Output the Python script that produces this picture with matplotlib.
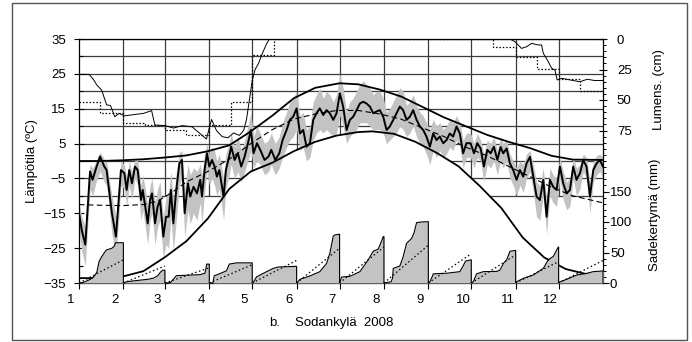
import matplotlib

matplotlib.use("Agg")

import matplotlib.pyplot as plt
import matplotlib.transforms as mtransforms
from matplotlib.patches import Rectangle

plt.rcParams["font.family"] = ["Liberation Sans", "DejaVu Sans"]
plt.rcParams["font.size"] = 9.5

# month boundaries (day of year 2008, leap year) and their labels
month_starts = [0, 31, 60, 91, 121, 152, 182, 213, 244, 274, 305, 335, 366]
month_labels = ["1", "2", "3", "4", "5", "6", "7", "8", "9", "10", "11", "12"]

# daily temperature 2008 (~every 2-3 days)
temp_days = [0, 2, 4.4, 7.7, 9.5, 12, 14.7, 17.7, 19.3, 20.7, 23, 25.8, 27.7, 29.3,
             31.7, 33.3, 35.1, 37, 39.1, 41, 43.3, 44.5, 46.3, 48, 49.6, 51, 53.1,
             54.9, 56.6, 58.9, 60.8, 62.6, 64.2, 65.9, 67.7, 70.1, 71.9, 73.8, 76.1,
             77.7, 80, 82.4, 84.7, 85.9, 87.7, 89.4, 91, 92.9, 94.7, 96.3, 98, 101,
             102.6, 104.9, 106.3, 108.7, 111, 113.3, 115.7, 118, 120.1, 121.9, 124.3,
             126.6, 129.6, 132.4, 134.3, 137.1, 139.9, 142.2, 145, 147.3, 149.6, 152,
             154.3, 156.6, 158.9, 161.3, 163.6, 165.9, 168.2, 170.6, 172.9, 175.2,
             177.6, 179.9, 182.2, 184.5, 186.9, 189.2, 191.5, 193.9, 196.2, 198.5,
             200.8, 203.2, 205.5, 207.8, 210.1, 212.5, 214.8, 217.1, 219.5, 221.8,
             224.1, 226.4, 228.8, 231.1, 233.4, 235.8, 238.1, 240.4, 242.7, 245.1,
             247.4, 249.7, 252, 254.4, 256.7, 259, 261.3, 263.7, 266, 268.3, 270.6,
             273.5, 275.9, 278.2, 280.5, 282.8, 285.2, 287.5, 289.8, 292.2, 294.5,
             296.3, 298.7, 301, 303.3, 305.6, 308, 310.3, 312.6, 315, 317.3, 319.6,
             321.9, 324.3, 326.6, 328.9, 331.2, 333.6, 335.9, 338.2, 340.6, 342.9,
             345.2, 347.5, 349.9, 352.2, 354.5, 356.9, 359.2, 361.5, 363.8, 366]
temp_mean = [-15, -20, -24, -3, -5.4, -2, 1.3, -1.6, -2.6, -7.4, -15, -21.7, -11.2, -2.6,
             -3.5, -8.3, -2.6, -6.4, -1.6, -2.6, -11.2, -8.3, -13.1, -17.9, -11.2, -9.3,
             -17.9, -13.1, -11.2, -21.7, -16, -16, -8.3, -17.9, -9.3, -0.7, 0.3, -15,
             -6.4, -10.2, -7.4, -9.3, -5.4, -10.2, -2.6, 2.2, -1.6, 0.3, -1.6, -4.5,
             -2.6, -10.2, -2.6, 1.3, 4.1, 0.3, 2.2, -1.6, 1.3, 5.1, 8.9, 2.2, 5.1, 3.2,
             0.3, 1.3, 3.2, 0.3, 2.2, 6, 8.9, 11.8, 12.7, 15.1, 7.9, 8.9, 4.1, 5.1,
             11.8, 13.7, 15.1, 13.2, 14.6, 13.7, 11.8, 13.7, 19.4, 15.6, 8.9, 11.8,
             12.7, 14.6, 16.5, 17, 16.5, 15.6, 13.7, 14.2, 14.6, 12.7, 8.9, 9.9, 11.8,
             13.7, 15.6, 14.6, 11.8, 12.7, 14.6, 11.8, 9.9, 8.9, 7, 4.1, 7.9, 6, 7,
             5.1, 6, 7.9, 7, 9.9, 7.9, 2.2, 5.1, 5.1, 2.2, 5.1, 3.6, -1.6, 3.2, 2.2,
             4.1, 0.3, 4, 2.2, 3.6, -0.7, -2.6, -5.4, -2.6, -4.5, -0.7, 1.2, -4.5,
             -10.2, -11.2, -5.4, -16, -5.4, -7.4, -8.3, -1.6, -6.4, -9.3, -8.3, -1.6,
             -5.4, -3.5, 0.3, -1.6, -10.2, -2.6, -0.7, 0.3, -1.6]
temp_low = [-20, -26, -30, -8, -10, -6, -3, -6, -7, -12, -21, -27, -17, -7,
            -8, -13, -7, -11, -5, -7, -17, -14, -19, -24, -17, -15, -24,
            -19, -17, -28, -24, -25, -16, -26, -18, -7, -5, -22,
            -14, -18, -15, -17, -12, -18, -9, -3, -7, -5, -7, -10,
            -8, -17, -8, -4, -1, -5, -3, -6, -3, 0, 3, -2, 0, -1,
            -4, -3, -1, -4, -2, 1, 4, 6, 7, 9, 3, 4, 0, 1,
            6, 8, 9, 8, 9, 8, 7, 8, 13, 10, 5, 7,
            8, 9, 11, 11, 11, 10, 9, 9, 9, 8, 5, 6, 7,
            8, 10, 9, 7, 8, 10, 7, 5, 4, 2, -1, 3, 1, 3,
            1, 2, 4, 3, 6, 4, -2, 1, 1, -2, 1, 0, -6, -1, -2,
            0, -4, 0, -2, 0, -5, -7, -10, -7, -9, -5, -3, -9,
            -16, -17, -10, -21, -10, -12, -13, -5, -11, -14, -13, -5,
            -10, -8, -3, -5, -15, -6, -4, -3, -5]
temp_high = [-12, -16, -19, -1, -2, 0, 2.5, 0.5, 0, -4, -10, -16, -7, 0,
             -1, -5, 0, -3, 0.5, 0, -7, -4, -8, -13, -7, -5, -12,
             -8, -6, -16, -10, -9, -3, -11, -4, 2.5, 3, -8,
             -1, -4, -2, -3, -1, -4, 2, 5, 2, 4, 3, 0,
             2, -5, 2, 5, 8, 4, 7, 3, 6, 10, 14, 7, 10, 8,
             5, 6, 8, 5, 7, 11, 14, 17, 18, 20, 13, 14, 9, 10,
             17, 19, 21, 18, 20, 19, 17, 19, 25, 21, 14, 17,
             18, 20, 22, 23, 22, 21, 19, 20, 20, 18, 14, 15, 17,
             19, 21, 20, 16, 17, 19, 16, 14, 13, 11, 9, 12, 10, 11,
             9, 10, 12, 11, 13, 11, 6, 8, 8, 5, 8, 6, 2, 6, 5,
             7, 3, 7, 5, 6, 2, 0, -2, 0, -1, 2, 3, -1,
             -6, -7, -2, -11, -2, -4, -5, 1, -3, -6, -5, 1,
             -2, -1, 2, 1, -6, 0, 1.5, 2, 1]

# long-term mean temperature (dashed)
norm_days = [0, 15, 30, 45, 55, 65, 75, 90, 105, 120, 135, 150, 165, 180, 195, 210,
             225, 240, 255, 270, 285, 300, 315, 330, 345, 366]
norm_temp = [-12.5, -12.7, -12.8, -12.5, -11.5, -9, -6, -3, 0.5, 5, 9, 12, 13.5,
             14.5, 14.5, 13.5, 12, 9.5, 7, 4, 1.5, -1.5, -4.5, -7.5, -10, -12]

# smooth envelope curves (thick black)
upper_days = [0, 15, 30, 45, 60, 75, 90, 105, 120, 135, 150, 165, 182, 195, 210, 225,
              240, 255, 270, 285, 300, 315, 330, 345, 366]
upper_vals = [0, 0, 0.2, 0.5, 1, 1.6, 2.8, 4.5, 8.5, 13, 18, 21, 22.3, 22, 20.5, 18.5,
              15.5, 12.5, 10, 7.5, 5.5, 3.7, 1.5, 0.4, 0.3]
lower_days = [0, 15, 30, 45, 60, 75, 90, 105, 120, 135, 150, 165, 180, 195, 205, 220,
              235, 250, 265, 280, 295, 310, 325, 340, 355, 366]
lower_vals = [-33.6, -33.6, -33.2, -31.6, -27.6, -23, -16.5, -8, -3, -0.5, 2.8, 5.5,
              7.3, 8.3, 8.5, 7.8, 5.5, 2.3, -1.5, -7.2, -13.5, -22, -27.7, -31, -32.5,
              -33.3]

# snow depth 2008 (cm, solid) and long-term half-month means (dotted)
snow_days = [0, 7, 10, 12.4, 15.8, 19.3, 22, 25, 28, 32, 38, 45, 50.7, 53, 60, 66, 72,
             79, 86, 89, 92.6, 96, 100, 104, 108, 112, 115, 117, 119, 121, 123, 125.4,
             128, 131, 133, 301, 304.5, 306.8, 309.1, 312.6, 316.1, 320.8, 323.1,
             324.3, 327.8, 330.1, 332.4, 334, 337.1, 345, 349.9, 355, 360, 366]
snow_depth = [29, 29, 33, 37.7, 41.8, 54, 54.5, 63.7, 61, 63, 62, 61, 58.7, 70.5, 71,
              73, 71, 72, 79, 82, 66, 75, 80, 81, 77, 79, 75, 66, 50, 34, 25, 20, 12, 4,
              0, 0, 2.2, 4.9, 7.7, 6.3, 3.6, 4.9, 4.9, 11.7, 18.6, 24, 25.4, 33.6, 32.2,
              34, 35, 33, 34, 34]
snow_norm_bounds = [0, 15, 31, 46, 60, 75, 91, 106, 121, 136, 289, 305, 320, 335, 350,
                    366]
snow_norm = [52, 61, 69, 70.5, 74.6, 78.7, 70.5, 51.5, 13, 0, 6.3, 14.5, 24.6, 33,
             42.4]

# cumulative monthly precipitation 2008 (mm) and long-term month totals
prec_days = [
    [0, 3, 8, 11, 12.5, 14, 15.8, 19, 23, 24.5, 25.5, 31],
    [31, 33, 40, 48, 52, 55, 57, 58.5, 60],
    [60, 61, 64, 68, 84.5, 88, 89.2, 90.5, 91],
    [91, 93.5, 94.5, 97, 103, 105, 110, 121],
    [121, 122, 124, 126.4, 131, 135.7, 139.2, 148, 152],
    [152, 153, 154.3, 161.3, 168.2, 172.9, 175.2, 177.6, 179, 182],
    [182, 183.4, 189.2, 196.2, 202, 205.5, 209, 211.3, 212.5, 213],
    [213, 218, 219, 219.5, 224.1, 226.4, 228.8, 232.3, 234, 235.8, 239.2, 244],
    [244, 245.1, 247, 247.4, 256.7, 266, 268.3, 270, 274],
    [274, 275.4, 277.7, 282.4, 292, 294, 296.4, 298.7, 301, 305],
    [305, 305.7, 310.3, 317.3, 324.3, 327.8, 331.3, 334.8, 335],
    [335, 335.9, 340.6, 347.6, 354.6, 359.2, 366],
]
prec_cum = [
    [0, 1, 6, 12, 18, 35, 43, 54, 57, 60, 66, 66],
    [0, 2, 4, 6, 8, 12, 18, 21, 21],
    [0, 0, 1, 12, 13.7, 16, 31, 31, 31],
    [0, 0, 12, 14, 20, 31, 33, 33],
    [0, 2, 10, 13, 18.6, 24, 26.2, 27, 27.3],
    [0, 2, 6, 11.5, 18.6, 32, 48.6, 77, 79, 80],
    [0, 9.8, 10.9, 18.6, 38, 51.9, 55.7, 68.3, 76, 76],
    [0, 2, 8, 24, 27.9, 43, 65, 73, 82, 99, 100, 100.5],
    [0, 2, 12, 15, 16, 18.6, 28, 36, 38],
    [0, 2, 15, 18.6, 19, 21.3, 32, 38, 52, 53.5],
    [0, 2, 7.6, 13, 24, 38, 43.7, 59, 59],
    [0, 2, 6, 13, 15.8, 18.6, 19.7],
]
prec_norm = [38, 28, 25, 30, 37, 57, 59, 62, 48, 46, 35, 37]

GRID = "#3c3c3c"

fig = plt.figure(figsize=(6.92, 3.42), dpi=100)
fig.add_artist(Rectangle((12 / 692, 2 / 342), 675 / 692, 337 / 342,
                         transform=fig.transFigure, fill=False, ec="#555555", lw=1))

ax = fig.add_axes((79 / 692, 59 / 342, 524 / 692, 244 / 342))
ax.set_xlim(0, 366)
ax.set_ylim(-35, 35)

# grid over the upper part, masked by the white area under the lower curve
ax.hlines(range(-10, 36, 5), 0, 366, color=GRID, lw=0.9, zorder=1)
ax.vlines(month_starts[1:-1], -10, 35, color=GRID, lw=0.9, zorder=1)
ax.fill_between(lower_days, -35, lower_vals, color="white", lw=0, zorder=1.5)

ax.fill_between(temp_days, temp_low, temp_high, color="#c3c3c3", lw=0, zorder=2)
ax.plot(norm_days, norm_temp, color="black", lw=0.8, dashes=(5, 3), zorder=4)
ax.plot(upper_days, upper_vals, color="black", lw=1.3, zorder=4)
ax.plot(lower_days, lower_vals, color="black", lw=1.3, zorder=4)
ax.plot(temp_days, temp_mean, color="black", lw=1.4, zorder=5)

ax.set_yticks(range(-35, 36, 10))
ax.set_yticks(range(-30, 36, 10), minor=True)
ax.tick_params(axis="y", which="major", direction="inout", length=7, width=0.8, pad=6)
ax.tick_params(axis="y", which="minor", direction="in", length=3, width=0.8)
ax.set_xticks(month_starts[:-1])
ax.set_xticklabels([])
ax.tick_params(axis="x", direction="out", length=4, width=0.8)
label_tf = mtransforms.blended_transform_factory(ax.transData, ax.transAxes)
for start, label in zip(month_starts[:-1], month_labels):
    ax.text(start - 5.6, -0.047, label, transform=label_tf, ha="center", va="top",
            fontsize=9.5)
for side in ("left", "right", "top", "bottom"):
    ax.spines[side].set_linewidth(0.9)

# snow depth axis (inverted, upper half)
ax_snow = ax.twinx()
ax_snow.set_ylim(200, 0)
ax_snow.set_xlim(0, 366)
ax_snow.step(snow_norm_bounds, snow_norm + [snow_norm[-1]], where="post",
             color="black", lw=0.9, linestyle=(0, (1.2, 1.5)))
ax_snow.plot(snow_days, snow_depth, color="black", lw=0.7)
ax_snow.set_yticks([0, 25, 50, 75])
ax_snow.set_yticks(range(5, 101, 5), minor=True)
ax_snow.tick_params(axis="y", which="major", direction="inout", length=6, width=0.8,
                    pad=7)
ax_snow.tick_params(axis="y", which="minor", direction="out", length=2, width=0.7)
for side in ("left", "right", "top", "bottom"):
    ax_snow.spines[side].set_visible(False)

# precipitation axis (lower half)
ax_prec = ax.twinx()
ax_prec.set_ylim(0, 400)
ax_prec.set_xlim(0, 366)
for days, cum, start, end, norm in zip(prec_days, prec_cum, month_starts[:-1],
                                       month_starts[1:], prec_norm):
    ax_prec.fill_between(days, 0, cum, color="#c3c3c3", lw=0, zorder=2)
    ax_prec.plot(days + [days[-1]], cum + [0], color="black", lw=0.8, zorder=3)
    ax_prec.plot([start, end], [0, norm], color="black", lw=0.9,
                 linestyle=(0, (1.2, 2)), zorder=3)
ax_prec.set_yticks([0, 50, 100, 150])
ax_prec.set_yticks(range(10, 201, 10), minor=True)
ax_prec.tick_params(axis="y", which="major", direction="out", length=4, width=0.8,
                    pad=1)
ax_prec.tick_params(axis="y", which="minor", direction="out", length=2, width=0.7)
for side in ("left", "right", "top", "bottom"):
    ax_prec.spines[side].set_visible(False)

fig.text(0.046, 0.529, "Lämpötila (ºC)", rotation=90, ha="center", va="center",
         fontsize=9.5)
fig.text(0.9516, 0.738, "Lumens. (cm)", rotation=90, ha="center", va="center",
         fontsize=9.5)
fig.text(0.9465, 0.371, "Sadekertymä (mm)", rotation=90, ha="center", va="center",
         fontsize=9.5)
fig.text(269 / 692, 1 - 323 / 342, "b.", ha="left", va="center", fontsize=9.5)
fig.text(295 / 692, 1 - 323 / 342, "Sodankylä  2008", ha="left", va="center",
         fontsize=9.5)

fig.savefig("out.png", dpi=100, facecolor="white")
